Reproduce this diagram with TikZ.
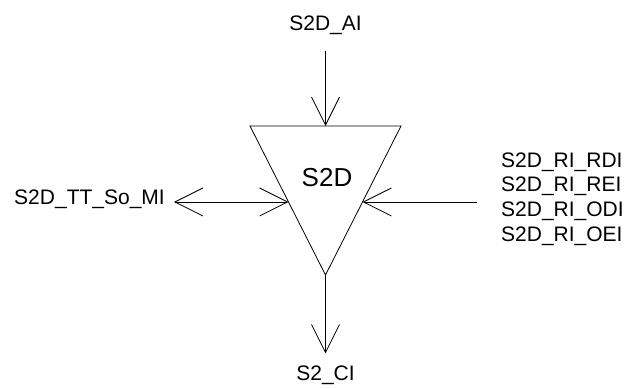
\documentclass[tikz,border=0pt]{standalone}
\usepackage{fontspec}
\setmainfont{Liberation Sans}
\usepackage{tikz}
\usetikzlibrary{arrows.meta,positioning,calc}
\definecolor{sdink}{HTML}{000000}
\tikzset{
  sigLabel/.style={font=\fontsize{21}{24.8}\selectfont, align=left, inner sep=3pt, text=sdink},
  blockLabel/.style={font=\fontsize{26}{30}\selectfont, inner sep=0pt, text=sdink},
  blockEdge/.style={draw=sdink, line width=0.8pt, line join=miter},
  sigArrow/.style={-{Straight Barb[length=28pt,width=28pt,line width=0.8pt]}, line width=0.8pt, draw=sdink},
  bothArrow/.style={{Straight Barb[length=28pt,width=28pt,line width=0.8pt]}-{Straight Barb[length=28pt,width=28pt,line width=0.8pt]}, line width=0.8pt, draw=sdink}
}
\begin{document}
\begin{tikzpicture}[x=1pt,y=-1pt]
  \useasboundingbox (0,0) rectangle (626,388);

  % block
  \coordinate (tl) at (250,126);
  \coordinate (tr) at (401,126);
  \coordinate (apex) at (325.5,275);
  \coordinate (top) at ($(tl)!0.5!(tr)$);
  \coordinate (lc) at ($(tl)!0.51!(apex)$);
  \coordinate (rc) at ($(tr)!0.51!(apex)$);
  \draw[blockEdge] (tl) -- (tr) -- (apex) -- cycle;
  \node[blockLabel] (s2d) at (327,178) {S2D};

  % signals
  \node[sigLabel] (ai) at (325.5,25.5) {S2D\_AI};
  \node[sigLabel] (ci) at (325.5,375) {S2\_CI};
  \node[sigLabel, anchor=east] (mi) at (168,199) {S2D\_TT\_So\_MI};
  \node[sigLabel, anchor=west] (ri) at (498,199) {S2D\_RI\_RDI\\ S2D\_RI\_REI\\ S2D\_RI\_ODI\\ S2D\_RI\_OEI};

  \draw[sigArrow, shorten <=12.5pt] (ai) -- (top);
  \draw[sigArrow, shorten >=9pt] (apex) -- (ci);
  \draw[bothArrow] (mi.east |- lc) ++(6,0) coordinate (mt) (mt) -- (lc);
  \draw[sigArrow] (ri.west |- rc) ++(-21,0) coordinate (rt) (rt) -- (rc);
\end{tikzpicture}
\end{document}
